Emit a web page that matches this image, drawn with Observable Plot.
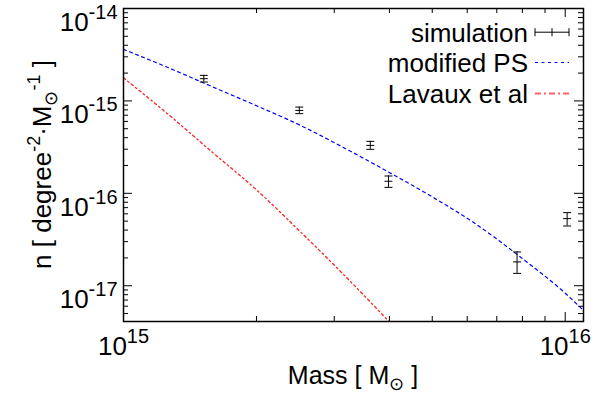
<!DOCTYPE html>
<html><head><meta charset="utf-8">
<script src="https://cdn.jsdelivr.net/npm/d3@7"></script>
<script src="https://cdn.jsdelivr.net/npm/@observablehq/plot@0.6"></script>
<style>html,body{margin:0;padding:0;background:#fff}svg{display:block}</style>
</head><body><div id="chart"></div>
<script>
// ---- data ----
const simMass = [1.52e15, 2.50e15, 3.62e15, 3.98e15, 7.78e15, 1.01e16];
const simN    = [1.74e-15, 7.89e-16, 3.30e-16, 1.35e-16, 1.81e-17, 5.32e-17];
const simLo   = [1.60e-15, 7.28e-16, 2.99e-16, 1.16e-16, 1.36e-17, 4.43e-17];
const simHi   = [1.89e-15, 8.57e-16, 3.65e-16, 1.54e-16, 2.32e-17, 6.18e-17];

const psMass = [1.0e15, 1.26e15, 1.58e15, 2.0e15, 2.51e15, 3.16e15, 3.98e15, 5.01e15, 6.31e15, 7.94e15, 1.0e16, 1.1e16];
const psN    = [3.61e-15, 2.30e-15, 1.44e-15, 8.87e-16, 5.46e-16, 3.10e-16, 1.70e-16, 9.1e-17, 4.57e-17, 2.02e-17, 8.3e-18, 5.4e-18];

const lavMass = [1.0e15, 1.26e15, 1.58e15, 2.0e15, 2.51e15, 3.16e15, 3.98e15, 5.01e15];
const lavN    = [1.78e-15, 7.21e-16, 2.85e-16, 1.09e-16, 3.87e-17, 1.30e-17, 4.15e-18, 1.27e-18];

const xDomain = [1e15, 1.1e16];
const yDomain = [4.1e-18, 1e-14];
const majorX = [1e15, 1e16];
const majorY = [1e-17, 1e-16, 1e-15, 1e-14];
const legendLabels = ["simulation", "modified PS", "Lavaux et al"];

// ---- layout ----
const W = 599, H = 398, ML = 123, MR = 16, MT = 8, MB = 77;
const PW = W - ML - MR, PH = H - MT - MB;
const FONT = "'Liberation Sans', Arial, Helvetica, sans-serif";

const minorX = [2,3,4,5,6,7,8,9].map(k => k * 1e15);
const minorY = [-18,-17,-16,-15].flatMap(e => [2,3,4,5,6,7,8,9].map(k => k * Math.pow(10, e)))
  .filter(v => v >= yDomain[0] && v <= yDomain[1]);

const sim = simMass.map((m, i) => ({m, n: simN[i], lo: simLo[i], hi: simHi[i]}));
const ps = psMass.map((m, i) => ({m, n: psN[i]}));
const lav = lavMass.map((m, i) => ({m, n: lavN[i]}));

const capSym = {draw(ctx, size) { const w = Math.sqrt(size); ctx.moveTo(-w / 2, 0); ctx.lineTo(w / 2, 0); }};
const expFmt = d => "10^" + Math.round(Math.log10(d));

const plot = Plot.plot({
  width: W, height: H,
  marginLeft: ML, marginRight: MR, marginTop: MT, marginBottom: MB,
  style: {fontFamily: FONT, background: "#fff", color: "#000"},
  x: {type: "log", domain: xDomain, label: null},
  y: {type: "log", domain: yDomain, label: null},
  marks: [
    Plot.tickY(minorY, {y: d => d, insetRight: PW - 5, stroke: "#000"}),
    Plot.tickY(minorY, {y: d => d, insetLeft: PW - 5, stroke: "#000"}),
    Plot.tickY(majorY, {y: d => d, insetRight: PW - 9, stroke: "#000"}),
    Plot.tickY(majorY, {y: d => d, insetLeft: PW - 9, stroke: "#000"}),
    Plot.tickX(minorX, {x: d => d, insetTop: PH - 5, stroke: "#000"}),
    Plot.tickX(minorX, {x: d => d, insetBottom: PH - 5, stroke: "#000"}),
    Plot.tickX(majorX, {x: d => d, insetTop: PH - 9, stroke: "#000"}),
    Plot.tickX(majorX, {x: d => d, insetBottom: PH - 9, stroke: "#000"}),
    Plot.line(lav, {x: "m", y: "n", stroke: "#ff2020", strokeWidth: 1.3, strokeDasharray: "2.5,3,1.5,3", curve: "monotone-x", clip: true}),
    Plot.line(ps, {x: "m", y: "n", stroke: "#0000ff", strokeWidth: 1.2, strokeDasharray: "3,3.5", curve: "monotone-x", clip: true}),
    Plot.ruleX(sim, {x: "m", y1: "lo", y2: "hi", stroke: "#000", strokeWidth: 1}),
    Plot.dot(sim, {x: "m", y: "lo", symbol: capSym, r: 4.5, stroke: "#000", fill: "none", strokeWidth: 1}),
    Plot.dot(sim, {x: "m", y: "hi", symbol: capSym, r: 4.5, stroke: "#000", fill: "none", strokeWidth: 1}),
    Plot.dot(sim, {x: "m", y: "n", symbol: capSym, r: 4.5, stroke: "#000", fill: "none", strokeWidth: 1}),
    Plot.axisY(majorY, {tickSize: 0, tickPadding: 6, fontSize: 26, dy: 14, label: null, tickFormat: expFmt}),
    Plot.axisX(majorX, {tickSize: 0, tickPadding: 15, fontSize: 26, label: null, tickFormat: expFmt}),
    Plot.frame({stroke: "#000", strokeWidth: 1.5})
  ]
});

document.getElementById("chart").appendChild(plot);
const svg = d3.select(plot);

// superscripts in tick labels
svg.selectAll('g[aria-label="y-axis tick label"] text, g[aria-label="x-axis tick label"] text').each(function() {
  const s = this.textContent;
  const [base, ex] = s.split("^");
  if (ex === undefined) return;
  const t = d3.select(this);
  t.text(null);
  t.append("tspan").text(base);
  t.append("tspan").attr("dy", -12).attr("font-size", 20).text(ex);
});

// axis titles
const xl = svg.append("text").attr("x", ML + PW / 2).attr("y", 384).attr("text-anchor", "middle")
  .attr("font-family", FONT).attr("font-size", 25).attr("fill", "#000");
xl.append("tspan").text("Mass [ M");
xl.append("tspan").attr("dy", 6).attr("font-size", 18).text("⊙");
xl.append("tspan").attr("dy", -6).text(" ]");

const yl = svg.append("text").attr("transform", `translate(51,${MT + PH / 2}) rotate(-90)`).attr("text-anchor", "middle")
  .attr("font-family", FONT).attr("font-size", 26).attr("fill", "#000");
yl.append("tspan").text("n [ degree");
yl.append("tspan").attr("dy", -11).attr("font-size", 18).text("-2");
yl.append("tspan").attr("dy", 11).text("·M");
yl.append("tspan").attr("dy", 6).attr("font-size", 18).text("⊙");
yl.append("tspan").attr("dy", -17).attr("font-size", 18).text("-1");
yl.append("tspan").attr("dy", 11).text(" ]");

// legend
const lg = svg.append("g").attr("font-family", FONT).attr("font-size", 26).attr("fill", "#000");
const baselines = [41.7, 72, 103];
const lx1 = 535, lx2 = 569;
legendLabels.forEach((lab, i) => {
  lg.append("text").attr("x", 528).attr("y", baselines[i]).attr("text-anchor", "end").text(lab);
});
const ly = baselines.map(b => b - 9.5);
lg.append("path").attr("d", `M${lx1},${ly[0]}H${lx2}M${lx1},${ly[0]-4}V${ly[0]+4}M${lx2},${ly[0]-4}V${ly[0]+4}M${(lx1+lx2)/2},${ly[0]-4}V${ly[0]+4}`)
  .attr("stroke", "#000").attr("fill", "none");
lg.append("line").attr("x1", lx1).attr("x2", lx2).attr("y1", ly[1]).attr("y2", ly[1])
  .attr("stroke", "#0000ff").attr("stroke-width", 1.2).attr("stroke-dasharray", "3,3.5");
lg.append("line").attr("x1", lx1).attr("x2", lx2).attr("y1", ly[2]).attr("y2", ly[2])
  .attr("stroke", "#ff6060").attr("stroke-width", 2).attr("stroke-dasharray", "6,3,2,3");
</script>
</body></html>
